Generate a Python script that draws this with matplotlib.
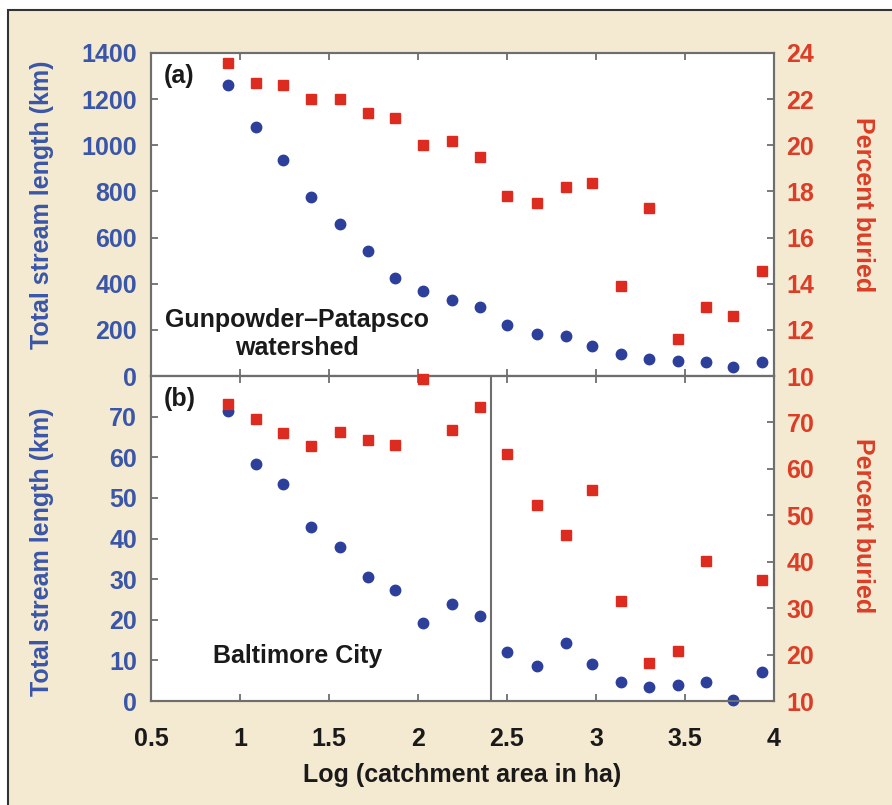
import matplotlib
matplotlib.use('Agg')
import matplotlib.pyplot as plt
from matplotlib.patches import Rectangle
import numpy as np

plt.rcParams['font.family'] = ['Liberation Sans Narrow', 'Liberation Sans', 'DejaVu Sans']
plt.rcParams['font.weight'] = 'bold'
plt.rcParams['axes.labelweight'] = 'bold'

# log catchment area (ha) bins
log_area = [0.93, 1.09, 1.24, 1.40, 1.56, 1.72, 1.87, 2.03, 2.19, 2.35,
            2.50, 2.67, 2.83, 2.98, 3.14, 3.30, 3.46, 3.62, 3.77, 3.93]

# (a) Gunpowder-Patapsco watershed
gp_length = [1260, 1080, 935, 775, 658, 540, 426, 370, 328, 297,
             219, 182, 173, 130, 97, 74, 66, 61, 39, 59]
gp_buried = [23.55, 22.7, 22.6, 22.0, 22.0, 21.4, 21.2, 20.0, 20.2, 19.5,
             17.8, 17.5, 18.2, 18.35, 13.9, 17.3, 11.6, 13.0, 12.6, 14.55]

# (b) Baltimore City
bc_length = [71.5, 58.4, 53.4, 42.9, 38.0, 30.6, 27.3, 19.2, 23.9, 20.9,
             12.0, 8.6, 14.2, 9.0, 4.6, 3.4, 4.0, 4.6, 0.2, 7.1]
bc_buried = [73.9, 70.8, 67.8, 64.9, 68.0, 66.3, 65.1, 79.3, 68.3, 73.3,
             63.2, 52.3, 45.8, 55.5, 31.5, 18.2, 20.7, 40.2, np.nan, 36.1]

x_ticks = [0.5, 1, 1.5, 2, 2.5, 3, 3.5, 4]
x_ticklabels = ['0.5', '1', '1.5', '2', '2.5', '3', '3.5', '4']
divider_x = 2.41

blue_txt = '#3a56a8'
red_txt = '#dc3d26'
blue_mk = '#2b3f9b'
red_mk = '#dd2c1f'
spine_c = '#6e6e6e'
cream = '#f4ead1'
dark = '#1a1a1a'

fig = plt.figure(figsize=(8.92, 8.05), dpi=100)
fig.patch.set_facecolor('white')
fig.patches.append(Rectangle((8/892, -0.05), 1.2, 1 - 10/805 + 0.05,
                             transform=fig.transFigure, facecolor=cream,
                             edgecolor='#333333', linewidth=1.5, zorder=-10))

L, R = 151/892, 774/892
y_mid = 1 - 376/805
y_top = 1 - 53/805
y_bot = 1 - 701/805

ax1 = fig.add_axes([L, y_mid, R - L, y_top - y_mid])
ax2 = fig.add_axes([L, y_bot, R - L, y_mid - y_bot])
ax1r = ax1.twinx()
ax2r = ax2.twinx()

for a in [ax1, ax2, ax1r, ax2r]:
    a.set_xlim(0.5, 4)
    a.set_xticks(x_ticks)
    a.set_xticklabels(x_ticklabels)
    for s in a.spines.values():
        s.set_color(spine_c)
        s.set_linewidth(1.5)
    a.tick_params(direction='in', length=5, width=1.3, color=spine_c,
                  top=True, labelsize=18)

ax1.set_facecolor('white')
ax2.set_facecolor('white')

# top panel
ax1.plot(log_area, gp_length, 'o', color=blue_mk, ms=7.5, clip_on=False, zorder=3)
ax1r.plot(log_area, gp_buried, 's', color=red_mk, ms=7.5, clip_on=False, zorder=3)
ax1.set_ylim(0, 1400)
ax1.set_yticks(range(0, 1401, 200))
ax1r.set_ylim(10, 24)
ax1r.set_yticks(range(10, 25, 2))
ax1.tick_params(axis='x', labelbottom=False)
ax1r.tick_params(axis='x', labelbottom=False)

# bottom panel
ax2.plot(log_area, bc_length, 'o', color=blue_mk, ms=7.5, clip_on=False, zorder=3)
ax2r.plot(log_area, bc_buried, 's', color=red_mk, ms=7.5, clip_on=False, zorder=3)
ax2.set_ylim(0, 80)
ax2.set_yticks(range(0, 71, 10))
ax2r.set_ylim(10, 80)
ax2r.set_yticks(range(10, 71, 10))
ax2.axvline(divider_x, color=spine_c, lw=1.5)

for a in [ax1, ax2]:
    a.tick_params(axis='y', colors=spine_c, labelcolor=blue_txt, pad=10)
for a in [ax1r, ax2r]:
    a.tick_params(axis='y', colors=spine_c, labelcolor=red_txt, pad=9)
ax2.tick_params(axis='x', labelcolor=dark, pad=19)
ax2r.tick_params(axis='x', labelbottom=False)

ax2.set_xlabel('Log (catchment area in ha)', fontsize=18, color=dark, labelpad=8)

fig.text(42/892, 1 - 205/805, 'Total stream length (km)', rotation=90, ha='center',
         va='center', fontsize=18, color=blue_txt)
fig.text(42/892, 1 - 552/805, 'Total stream length (km)', rotation=90, ha='center',
         va='center', fontsize=18, color=blue_txt)
fig.text(863/892, 1 - 205/805, 'Percent buried', rotation=-90, ha='center',
         va='center', fontsize=18, color=red_txt)
fig.text(863/892, 1 - 526/805, 'Percent buried', rotation=-90, ha='center',
         va='center', fontsize=18, color=red_txt)

ax1.text(0.02, 0.93, '(a)', transform=ax1.transAxes, fontsize=18, color=dark,
         ha='left', va='center')
ax1.text(0.235, 0.13, 'Gunpowder\u2013Patapsco\nwatershed', transform=ax1.transAxes,
         fontsize=18, color=dark, ha='center', va='center', linespacing=1.2)
ax2.text(0.02, 0.93, '(b)', transform=ax2.transAxes, fontsize=18, color=dark,
         ha='left', va='center')
ax2.text(0.235, 0.14, 'Baltimore City', transform=ax2.transAxes,
         fontsize=18, color=dark, ha='center', va='center')

plt.savefig('out.png', dpi=100, facecolor=fig.get_facecolor())
